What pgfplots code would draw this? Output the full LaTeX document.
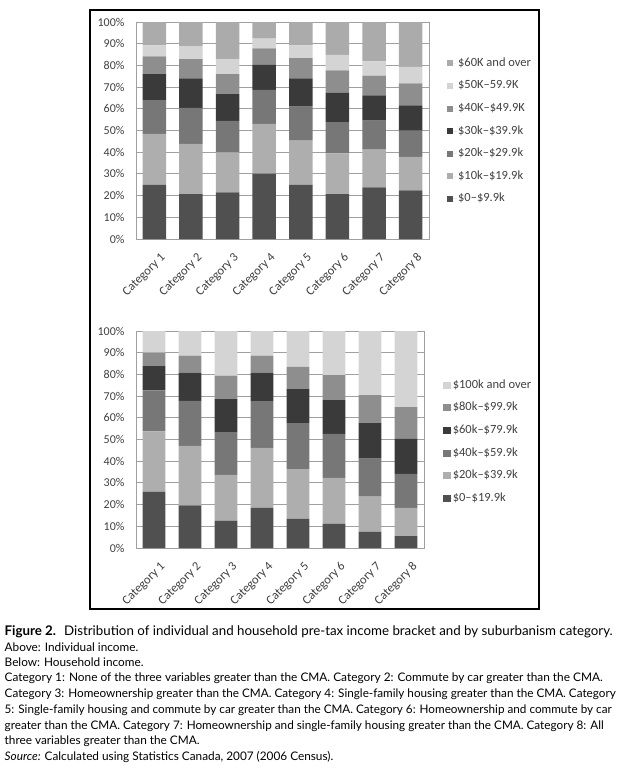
\documentclass[border=0pt]{standalone}
\usepackage{pgfplots}
\usepackage{pgfplotstable}
\usepackage{graphicx}
\pgfplotsset{compat=1.18}
\usepackage{fontspec}
\setmainfont{Carlito}
\newfontfamily\capfont{Lato}

\definecolor{cA}{HTML}{505050}
\definecolor{cB}{HTML}{AEAEAE}
\definecolor{cC}{HTML}{777777}
\definecolor{cD}{HTML}{3A3A3A}
\definecolor{cE}{HTML}{8E8E8E}
\definecolor{cF}{HTML}{D4D4D4}
\definecolor{cG}{HTML}{ABABAB}
\definecolor{gridc}{HTML}{A0A0A0}
\definecolor{tickc}{HTML}{404040}

\pgfplotstableread{
cat s1   s2   s3   s4   s5   s6   s7
1   25.0 23.5 15.5 12.0 8.2  5.0  10.8
2   20.7 23.1 16.6 13.6 8.9  6.0  11.1
3   21.5 18.4 14.5 12.4 9.2  6.9  17.1
4   30.1 22.9 15.7 11.6 7.6  4.4  7.7
5   25.0 20.3 15.7 13.0 9.4  5.8  10.8
6   20.7 18.8 14.4 13.4 10.4 7.2  15.1
7   23.8 17.4 13.3 11.7 9.1  6.6  18.1
8   22.4 15.4 12.1 11.7 10.1 7.6  20.7
}\individual

\pgfplotstableread{
cat s1   s2   s3   s4   s5   s6
1   26.0 27.7 18.9 11.2 6.2  10.0
2   19.7 27.4 20.7 13.0 7.8  11.4
3   12.6 21.1 19.7 15.2 10.8 20.6
4   18.5 27.7 21.5 13.1 7.8  11.4
5   13.4 22.9 21.2 15.7 10.3 16.5
6   11.2 21.1 20.3 15.6 11.5 20.3
7   7.4  16.3 17.5 16.3 13.0 29.5
8   5.5  13.0 15.7 16.1 14.6 35.1
}\household

\pgfplotsset{
  mystyle/.style={
    scale only axis,
    ybar stacked,
    xmin=0.5, xmax=8.5, ymin=0, ymax=100,
    xtick={1,...,8},
    xticklabels={Category 1,Category 2,Category 3,Category 4,Category 5,Category 6,Category 7,Category 8},
    ytick={0,10,...,100},
    yticklabel={\pgfmathprintnumber{\tick}\%},
    /pgf/number format/assume math mode=true,
    major tick length=0pt,
    axis line style={gridc, line width=0.9pt},
    ymajorgrids,
    grid style={gridc, line width=0.9pt},
    tick label style={font=\fontsize{12}{14}\selectfont, text=tickc},
    yticklabel style={xshift=-8pt},
    xticklabel style={rotate=45, anchor=north east, inner sep=0pt, font=\fontsize{12.5}{14}\selectfont, xshift=-5pt, yshift=-13pt},
    legend cell align=left,
    reverse legend,
  }
}

\newcommand{\capline}[2]{\resizebox{#1}{\height}{\capfont\fontsize{11.8}{15}\selectfont #2}}

\begin{document}
\begin{tikzpicture}[x=1pt,y=1pt]
\path[use as bounding box] (0,0) rectangle (620,-774);
\draw[black, line width=1.5pt] (90,-10) rectangle (539,-609);

% ---------- Individual income ----------
\begin{axis}[mystyle,
  at={(136pt,-239pt)}, anchor=south west, width=293pt, height=217pt,
  bar width=0.64,
  legend style={at={(1.051,0.852)}, anchor=north west, draw=none, fill=none,
    font=\fontsize{12.5}{14}\selectfont, text=tickc, row sep=8.6pt,
    nodes={inner sep=1pt, text height=9pt, text depth=3pt}},
  legend image code/.code={\fill[#1, draw=none] (0pt,-3pt) rectangle (5.5pt,3pt); \path (0pt,0pt) -- (10pt,0pt);},
]
\addplot[fill=cA, draw=none] table[x=cat, y=s1] {\individual};
\addplot[fill=cB, draw=none] table[x=cat, y=s2] {\individual};
\addplot[fill=cC, draw=none] table[x=cat, y=s3] {\individual};
\addplot[fill=cD, draw=none] table[x=cat, y=s4] {\individual};
\addplot[fill=cE, draw=none] table[x=cat, y=s5] {\individual};
\addplot[fill=cF, draw=none] table[x=cat, y=s6] {\individual};
\addplot[fill=cG, draw=none] table[x=cat, y=s7] {\individual};
\legend{\$0--\$9.9k,\$10k--\$19.9k,\$20k--\$29.9k,\$30k--\$39.9k,\$40K--\$49.9K,\$50K--59.9K,\$60K and over}
\end{axis}

% ---------- Household income ----------
\begin{axis}[mystyle,
  at={(136pt,-548pt)}, anchor=south west, width=288pt, height=217pt,
  bar width=0.63,
  legend style={at={(1.056,0.792)}, anchor=north west, draw=none, fill=none,
    font=\fontsize{12.5}{14}\selectfont, text=tickc, row sep=8.6pt,
    nodes={inner sep=1pt, text height=9pt, text depth=3pt}},
  legend image code/.code={\fill[#1, draw=none] (0pt,-3.5pt) rectangle (7.3pt,3.5pt); \path (0pt,0pt) -- (8.5pt,0pt);},
]
\addplot[fill=cA, draw=none] table[x=cat, y=s1] {\household};
\addplot[fill=cB, draw=none] table[x=cat, y=s2] {\household};
\addplot[fill=cC, draw=none] table[x=cat, y=s3] {\household};
\addplot[fill=cD, draw=none] table[x=cat, y=s4] {\household};
\addplot[fill=cE, draw=none] table[x=cat, y=s5] {\household};
\addplot[fill=cF, draw=none] table[x=cat, y=s6] {\household};
\legend{\$0--\$19.9k,\$20k--\$39.9k,\$40k--\$59.9k,\$60k--\$79.9k,\$80k--\$99.9k,\$100k and over}
\end{axis}

% ---------- Caption ----------
\begin{scope}[every node/.style={anchor=base west, inner sep=0pt, text=black}]
\node at (4.5,-635.7) {\resizebox{608pt}{\height}{\capfont\fontsize{13.3}{15}\selectfont\textbf{Figure 2.}\hspace{0.6em}Distribution of individual and household pre-tax income bracket and by suburbanism category.}};
\node at (4.5,-651) {\capfont\fontsize{11.8}{15}\selectfont Above: Individual income.};
\node at (4.5,-666.7) {\capfont\fontsize{11.8}{15}\selectfont Below: Household income.};
\node at (4.5,-681.9) {\capline{598pt}{Category 1: None of the three variables greater than the CMA. Category 2: Commute by car greater than the CMA.}};
\node at (4.5,-697.6) {\capline{611pt}{Category 3: Homeownership greater than the CMA. Category 4: Single-family housing greater than the CMA. Category}};
\node at (4.5,-713.3) {\capline{607pt}{5: Single-family housing and commute by car greater than the CMA. Category 6: Homeownership and commute by car}};
\node at (4.5,-729) {\capline{599pt}{greater than the CMA. Category 7: Homeownership and single-family housing greater than the CMA. Category 8: All}};
\node at (4.5,-744.5) {\capfont\fontsize{11.8}{15}\selectfont three variables greater than the CMA.};
\node at (4.5,-760) {\capfont\fontsize{11.8}{15}\selectfont\textit{Source:} Calculated using Statistics Canada, 2007 (2006 Census).};
\end{scope}
\end{tikzpicture}
\end{document}
